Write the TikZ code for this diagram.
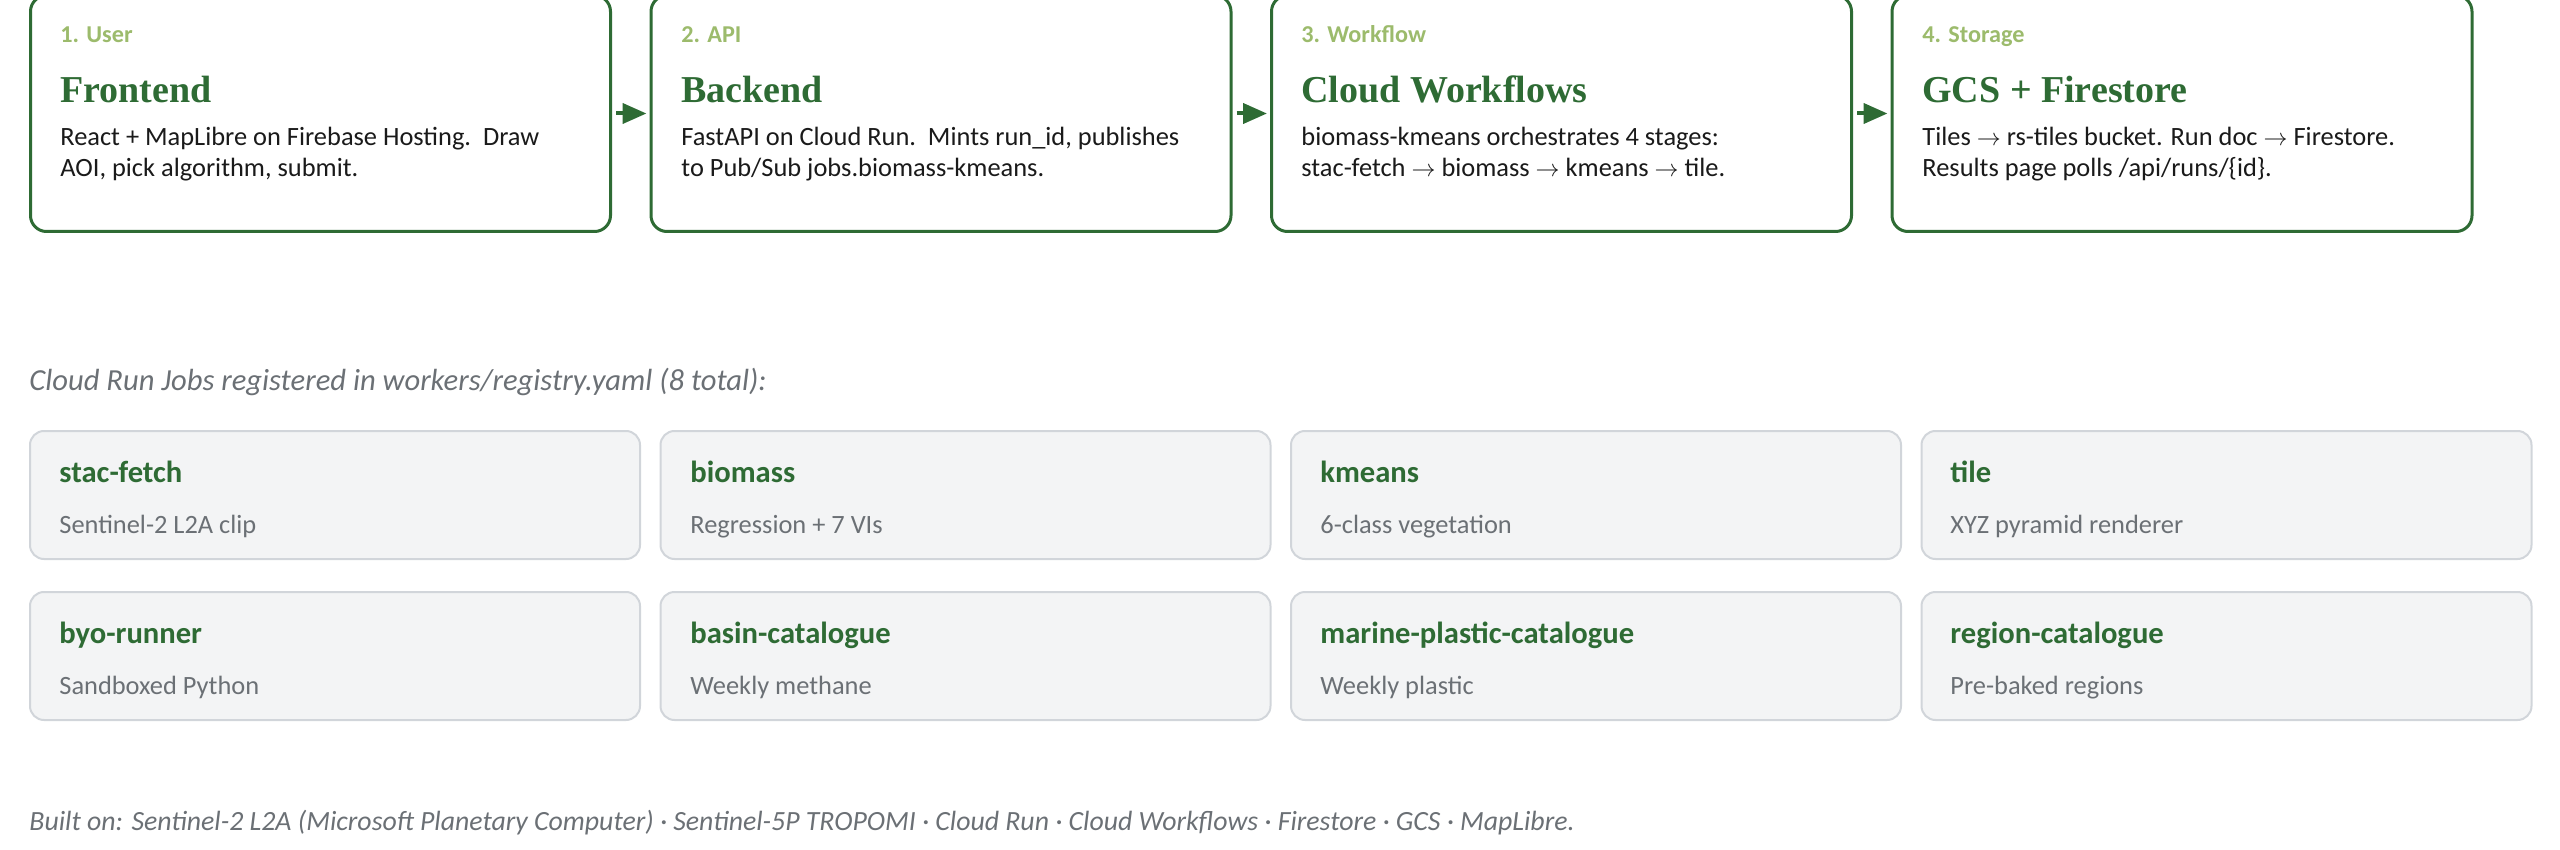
\documentclass[tikz,border=0pt]{standalone}
\usepackage{fontspec}
\setmainfont{Carlito}
\newfontfamily\headfont{Liberation Serif}
\usepackage{tikz}
\usetikzlibrary{arrows.meta}
\usepackage{xcolor}
\definecolor{leaf}{HTML}{2E6B34}
\definecolor{sprout}{HTML}{9CBB6C}
\definecolor{ink}{HTML}{1A1A1A}
\definecolor{slate}{HTML}{6B7075}
\definecolor{jobfill}{HTML}{F3F4F5}
\definecolor{jobline}{HTML}{D1D5DA}

\begin{document}
\begin{tikzpicture}[x=0.5pt,y=-0.5pt]
    %styles
    \tikzstyle{stage}=[rectangle,draw=leaf,line width=1.5pt,rounded corners=8pt,fill=white,minimum width=290pt,minimum height=118pt,anchor=north west,inner sep=0pt]
    \tikzstyle{stagelbl}=[anchor=base west,inner sep=0pt,text=sprout,font=\fontsize{12.1}{14}\selectfont\bfseries]
    \tikzstyle{stagehead}=[anchor=base west,inner sep=0pt,text=leaf,font=\fontsize{19}{22}\selectfont\headfont\bfseries]
    \tikzstyle{stagetxt}=[anchor=base west,inner sep=0pt,align=left,text=ink,font=\fontsize{13.2}{15.5}\selectfont]
    \tikzstyle{jobbox}=[rectangle,draw=jobline,line width=1pt,rounded corners=7pt,fill=jobfill,minimum width=305pt,minimum height=64pt,anchor=north west,inner sep=0pt]
    \tikzstyle{jobname}=[anchor=base west,inner sep=0pt,text=leaf,font=\fontsize{15.3}{17}\selectfont\bfseries]
    \tikzstyle{jobnote}=[anchor=base west,inner sep=0pt,text=slate,font=\fontsize{13.2}{15}\selectfont]
    \tikzstyle{note}=[anchor=base west,inner sep=0pt,text=slate,font=\itshape]
    \tikzstyle{commu}=[-{Triangle[length=12pt,width=10pt]},line width=2pt,leaf,shorten <=2pt,shorten >=1.5pt]
    \useasboundingbox (0,0) rectangle (2560,850);
    %stages
    \node[stage] (user) at (29,-6) {};
    \node[stagelbl] (userlbl) at (60,43) {1. User};
    \node[stagehead] (userhead) at (60,103) {Frontend};
    \node[stagetxt] (usertxt) at (60,177) {React + MapLibre on Firebase Hosting.\ \ Draw\\AOI, pick algorithm, submit.};

    \node[stage] (api) at (649.5,-6) {};
    \node[stagelbl] (apilbl) at (681,43) {2. API};
    \node[stagehead] (apihead) at (681,103) {Backend};
    \node[stagetxt] (apitxt) at (681,177) {FastAPI on Cloud Run.\ \ Mints run\_id, publishes\\to Pub/Sub jobs.biomass-kmeans.};

    \node[stage] (flow) at (1270,-6) {};
    \node[stagelbl] (flowlbl) at (1301,43) {3. Workflow};
    \node[stagehead] (flowhead) at (1301,103) {Cloud Workflows};
    \node[stagetxt] (flowtxt) at (1301,177) {biomass-kmeans orchestrates 4 stages:\\stac-fetch $\rightarrow$ biomass $\rightarrow$ kmeans $\rightarrow$ tile.};

    \node[stage] (store) at (1890.5,-6) {};
    \node[stagelbl] (storelbl) at (1922,43) {4. Storage};
    \node[stagehead] (storehead) at (1922,103) {GCS + Firestore};
    \node[stagetxt] (storetxt) at (1922,177) {Tiles $\rightarrow$ rs-tiles bucket. Run doc $\rightarrow$ Firestore.\\Results page polls /api/runs/\{id\}.};

    %arrows
    \draw[commu] (user)--(api);
    \draw[commu] (api)--(flow);
    \draw[commu] (flow)--(store);

    %jobs
    \node[note,font=\fontsize{15.3}{17}\selectfont\itshape] (jobcap) at (29,390) {Cloud Run Jobs registered in workers/registry.yaml (8 total):};

    \node[jobbox] (jfetch) at (29,430) {};
    \node[jobname] (jfetchname) at (59,482) {stac-fetch};
    \node[jobnote] (jfetchnote) at (59,533) {Sentinel-2 L2A clip};
    \node[jobbox] (jbio) at (659.5,430) {};
    \node[jobname] (jbioname) at (690,482) {biomass};
    \node[jobnote] (jbionote) at (690,533) {Regression + 7 VIs};
    \node[jobbox] (jkm) at (1290,430) {};
    \node[jobname] (jkmname) at (1320,482) {kmeans};
    \node[jobnote] (jkmnote) at (1320,533) {6-class vegetation};
    \node[jobbox] (jtile) at (1920.5,430) {};
    \node[jobname] (jtilename) at (1950,482) {tile};
    \node[jobnote] (jtilenote) at (1950,533) {XYZ pyramid renderer};

    \node[jobbox] (jbyo) at (29,591) {};
    \node[jobname] (jbyoname) at (59,643) {byo-runner};
    \node[jobnote] (jbyonote) at (59,694) {Sandboxed Python};
    \node[jobbox] (jbasin) at (659.5,591) {};
    \node[jobname] (jbasinname) at (690,643) {basin-catalogue};
    \node[jobnote] (jbasinnote) at (690,694) {Weekly methane};
    \node[jobbox] (jmarine) at (1290,591) {};
    \node[jobname] (jmarinename) at (1320,643) {marine-plastic-catalogue};
    \node[jobnote] (jmarinenote) at (1320,694) {Weekly plastic};
    \node[jobbox] (jregion) at (1920.5,591) {};
    \node[jobname] (jregionname) at (1950,643) {region-catalogue};
    \node[jobnote] (jregionnote) at (1950,694) {Pre-baked regions};

    %footer
    \node[note,font=\fontsize{13.9}{16}\selectfont\itshape] (built) at (29,830) {Built on: Sentinel-2 L2A (Microsoft Planetary Computer) · Sentinel-5P TROPOMI · Cloud Run · Cloud Workflows · Firestore · GCS · MapLibre.};
\end{tikzpicture}
\end{document}
